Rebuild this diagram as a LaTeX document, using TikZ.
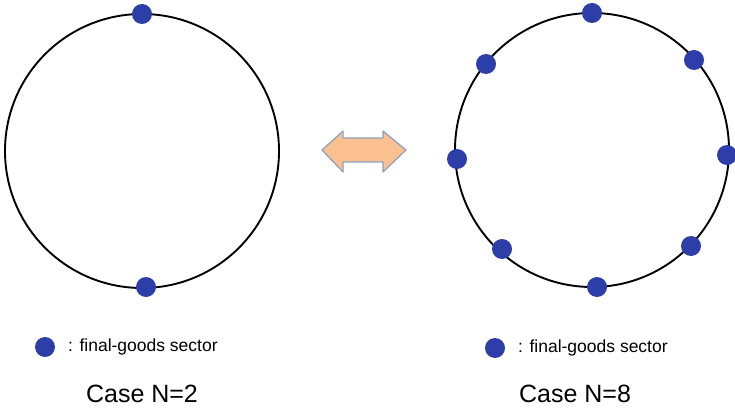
\documentclass[tikz,border=0pt]{standalone}
\usepackage{fontspec}
\setmainfont{Liberation Sans}
\definecolor{dotblue}{RGB}{45,62,168}
\definecolor{arrowfill}{RGB}{250,192,143}
\definecolor{arrowline}{RGB}{140,160,195}
\begin{document}
\begin{tikzpicture}[x=1pt,y=-1pt,
  ring/.style={draw=black,line width=1.9pt},
  dot/.style={circle,fill=dotblue,inner sep=0pt,minimum size=20pt},
  legend/.style={anchor=west,inner sep=0pt,font=\fontsize{17.5}{20}\selectfont},
  casetext/.style={inner sep=0pt,font=\fontsize{25}{29}\selectfont}]
\useasboundingbox (0,0) rectangle (735,414);
% left circle
\node[ring,circle,minimum size=274pt,inner sep=0pt] (c1) at (142,151) {};
\node[dot] (a1) at (142,14) {};
\node[dot] (a2) at (146,287) {};
% right circle
\node[ring,circle,minimum size=274pt,inner sep=0pt] (c2) at (592,150) {};
\node[dot] (b1) at (592,13) {};
\node[dot] (b2) at (694,60) {};
\node[dot] (b3) at (727,155) {};
\node[dot] (b4) at (691,246) {};
\node[dot] (b5) at (597,287) {};
\node[dot] (b6) at (502,249) {};
\node[dot] (b7) at (457,159) {};
\node[dot] (b8) at (486,64) {};
% double arrow
\draw[fill=arrowfill,draw=arrowline,line width=1.2pt,line join=round]
  (322,150) -- (343,131) -- (343,138) -- (383,138) -- (383,131) -- (406,150)
  -- (383,172) -- (383,162) -- (343,162) -- (343,172) -- cycle;
% legends
\node[dot] (l1) at (45,347) {};
\node[legend] (t1) at (68,347) {: final-goods sector};
\node[dot] (l2) at (495,348) {};
\node[legend] (t2) at (518,348) {: final-goods sector};
\node[casetext] (n1) at (142,394) {Case N=2};
\node[casetext] (n2) at (575,394) {Case N=8};
\end{tikzpicture}
\end{document}
